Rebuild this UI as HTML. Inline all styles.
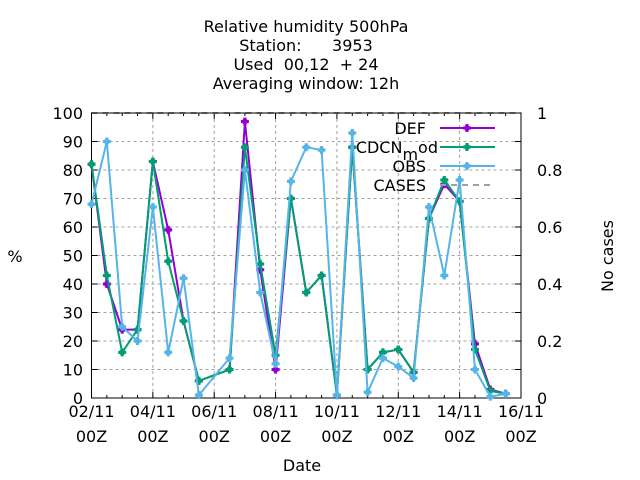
<!DOCTYPE html>
<html><head><meta charset="utf-8"><style>
html,body{margin:0;padding:0;background:#fff}
svg{display:block;font-family:"DejaVu Sans","Liberation Sans",sans-serif}
text{white-space:pre}
</style></head><body>
<svg id="c" width="640" height="480" xmlns="http://www.w3.org/2000/svg" xml:space="preserve"></svg>
<script>
const xLabels=["02/11","04/11","06/11","08/11","10/11","12/11","14/11","16/11"];
const yTicks=[0,10,20,30,40,50,60,70,80,90,100];
const y2Labels=["0","0.2","0.4","0.6","0.8","1"];
const defVals=[82,40,24,24,83,59,27,6,null,10,97,45,10,70,37,43,1,88,10,16,17,9,63,75,69,19,3,1.5];
const cdcnVals=[82,43,16,24,83,48,27,6,null,10,88,47,15,70,37,43,1,88,10,16,17,9,63,76.5,69,17,2.5,1.5];
const obsVals=[68,90,25,20,67,16,42,1,null,14,80,37,12,76,88,87,1,93,2,14,11,7,67,43,76.5,10,0.5,1.5];
const casesVals=[1,1,1,1,1,1,1,1,1,1,1,1,1,1,1,1,1,1,1,1,1,1,1,1,1,1,1,1,1];
const L=91.5,R=521,T=113,B=398,nSteps=28;
const FS=16;
const xs=i=>L+(R-L)*i/nSteps;
const ys=v=>B-(B-T)*v/100;
const ys2=v=>B-(B-T)*v;
const svg=document.getElementById('c');
const NS='http://www.w3.org/2000/svg';
function mk(tag,attrs,parent){const e=document.createElementNS(NS,tag);for(const k in attrs)e.setAttribute(k,attrs[k]);(parent||svg).appendChild(e);return e;}
function txt(s,x,y,anchor,extra){const t=mk('text',Object.assign({x:x,y:y,'text-anchor':anchor||'middle','font-size':FS,fill:'#000'},extra||{}));t.textContent=s;return t;}
const title=["Relative humidity 500hPa","Station:      3953","Used  00,12  + 24","Averaging window: 12h"];
title.forEach((s,i)=>{const t=txt(s,306,32+i*19);

});
yTicks.forEach(v=>{
 if(v>0&&v<100){const g=mk('line',{x1:L,x2:R,y1:ys(v),y2:ys(v),stroke:'#a0a0a0','stroke-dasharray':'3,3','stroke-width':1});
 
 }
 mk('line',{x1:L,x2:L+6,y1:ys(v),y2:ys(v),stroke:'#000'});
 mk('line',{x1:R,x2:R-6,y1:ys(v),y2:ys(v),stroke:'#000'});
 const t=txt(String(v),83,ys(v)+6,'end');
 
 
});
xLabels.forEach((s,i)=>{
 const x=L+(R-L)*i/7;
 if(i>0&&i<7){const g=mk('line',{x1:x,x2:x,y1:T,y2:B,stroke:'#a0a0a0','stroke-dasharray':'3,3','stroke-width':1});
 
 }
 const t=txt(s,x,417);
 
 
 const t2=txt("00Z",x,442);
 
 
});
for(let i=0;i<=nSteps;i++){const x=xs(i);const h=(i%4==0)?6:3;
 mk('line',{x1:x,x2:x,y1:B,y2:B-h,stroke:'#000'});mk('line',{x1:x,x2:x,y1:T,y2:T+h,stroke:'#000'});}
y2Labels.forEach((s,i)=>{const v=i*0.2;
 const t=txt(s,537,ys2(v)+6,'start');
 
 });
let a=txt('%',15,262);
a=txt('Date',302,471);
a=txt('No cases',0,0,'middle',{transform:'translate(613,256) rotate(-90)'});
const cp=casesVals.map((v,i)=>xs(i)+','+ys2(v)).join(' ');
a=mk('polyline',{points:cp,fill:'none',stroke:'#a0a0a0','stroke-width':2,'stroke-dasharray':'6,5'});

a=mk('rect',{x:L,y:T,width:R-L,height:B-T,fill:'none',stroke:'#000','stroke-width':1});

function marker(x,y,color,g){
 mk('path',{d:`M${x-4},${y}H${x+4}M${x},${y-4}V${y+4}`,stroke:color,'stroke-width':3},g);
 return mk('circle',{cx:x,cy:y,r:3,fill:color},g);
}
function series(vals,color,name){
 const g=mk('g',{});
 
 
 const pts=[];vals.forEach((v,i)=>{if(v!==null)pts.push([xs(i),ys(v)]);});
 mk('polyline',{points:pts.map(p=>p.join(',')).join(' '),fill:'none',stroke:color,'stroke-width':2},g);
 pts.forEach(p=>{const c=marker(p[0],p[1],color,g);
 
 });
}
series(defVals,'#9400d3','def');
series(cdcnVals,'#009e73','cdcn-mod');
series(obsVals,'#56b4e9','obs');
const leg=[["DEF",'#9400d3',false],["CDCN",'#009e73',false],["OBS",'#56b4e9',false],["CASES",'#a0a0a0',true]];
leg.forEach((l,i)=>{const y=128+i*19;
 const g=mk('g',{});
 
 
 const t=mk('text',{x:426,y:y+6,'text-anchor':'end','font-size':FS},g);
 if(l[0]=="CDCN"){t.setAttribute('x',438);t.innerHTML='CDCN<tspan dy="7">m</tspan><tspan dy="-7">od</tspan>';}
 else t.textContent=l[0];
 if(l[2]) mk('line',{x1:440,x2:495,y1:y,y2:y,stroke:l[1],'stroke-width':2,'stroke-dasharray':'6,5'},g);
 else{mk('line',{x1:440,x2:495,y1:y,y2:y,stroke:l[1],'stroke-width':2},g);marker(467,y,l[1],g);}
});
</script>
</body></html>
